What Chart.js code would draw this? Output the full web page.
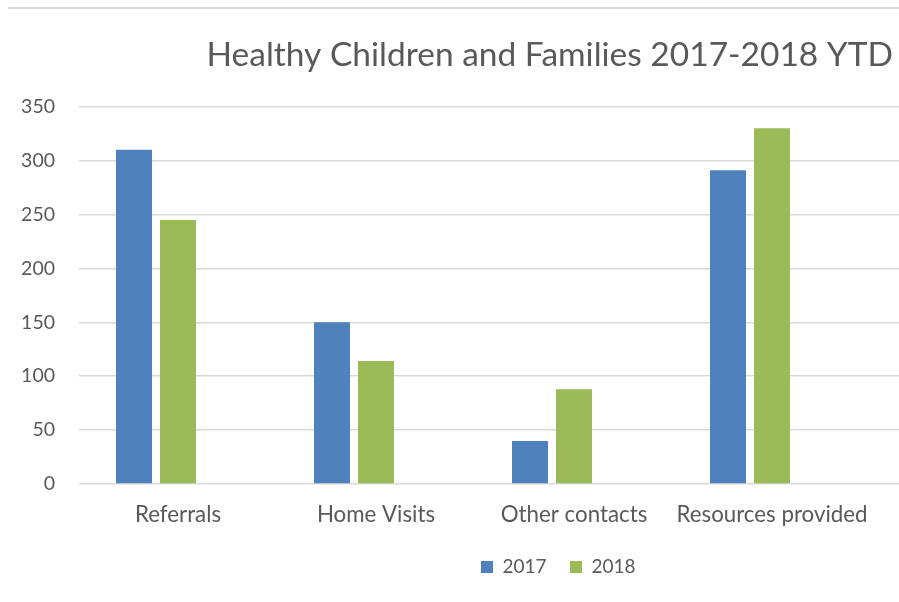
<!DOCTYPE html>
<html>
<head>
<meta charset="utf-8">
<title>Healthy Children and Families 2017-2018 YTD</title>
<script src="https://cdn.jsdelivr.net/npm/chart.js@4.4.1/dist/chart.umd.min.js"></script>
<style>
  html, body { margin: 0; padding: 0; background: #fff; }
  #wrap { position: relative; width: 899px; height: 602px; }
  #wrap .frame { position: absolute; left: 8px; right: 0; top: 7px; border-top: 2px solid #d9d9d9; }
</style>
</head>
<body>
<div id="wrap">
  <canvas id="hcfChart"></canvas>
  <div class="frame"></div>
</div>
<script>
// data
const categories = ["Referrals", "Home Visits", "Other contacts", "Resources provided"];
const values2017 = [310, 150, 40, 291];
const values2018 = [245, 114, 88, 330];
const emptySeries = [null, null, null, null]; // third series slot is empty in the source
const yTicks = [0, 50, 100, 150, 200, 250, 300, 350];
const titleText = "Healthy Children and Families 2017-2018 YTD";

const FONT = "Lato, 'Open Sans', sans-serif";
const textColor = "#595959";
const gridColor = "#d9d9d9";

// measure text so sizes match the picture
function textWidth(text, size, weight) {
  const c = document.createElement("canvas").getContext("2d");
  c.font = weight + " " + size + "px " + FONT;
  return c.measureText(text).width;
}
function fitSize(text, width, weight) {
  return Math.round(1000 * width / textWidth(text, 100, weight)) / 10;
}
const titleSize = fitSize(titleText, 686, 400);
const yTickSize = fitSize("350", 34, 400);
const xTickSize = fitSize("Resources provided", 191, 400);
const legendSize = fitSize("2017", 44, 400);
const legendGap = 570 - 481 - 12 - legendSize / 2 - textWidth("2017", legendSize, 400);

const xTickPad = 30.8 - 0.6 * xTickSize;
// keep the plot bottom on the 0 line whatever the legend height comes to
const padBottom = 14.5 - 0.6 * xTickSize + (legendSize * 40 / 44 + 28) - (legendSize + legendGap);

// move title / legend where the picture has them
const placeBoxes = {
  id: "placeBoxes",
  afterLayout(chart) {
    if (chart.titleBlock) chart.titleBlock.right = 893;
    const lg = chart.legend;
    const pad = lg.options.labels.padding;
    const h = lg.height;
    lg.left = 481 - pad;
    lg.right = 899;
    lg.top = 567 - legendSize / 2 - pad;
    lg.bottom = lg.top + h;
  }
};

// gridlines run past the plot to the right edge
const gridTail = {
  id: "gridTail",
  beforeDatasetsDraw(chart) {
    const { ctx, chartArea, scales } = chart;
    const y = scales.y;
    const lw = 1.5;
    ctx.save();
    ctx.strokeStyle = gridColor;
    ctx.lineWidth = lw;
    y.ticks.forEach(t => {
      const dpr = chart.currentDevicePixelRatio || 1;
      const p = y.getPixelForValue(t.value);
      const py = Math.round((p - lw / 2) * dpr) / dpr + lw / 2;
      ctx.beginPath();
      ctx.moveTo(chartArea.right, py);
      ctx.lineTo(chart.width, py);
      ctx.stroke();
    });
    ctx.restore();
  }
};

const ctx = document.getElementById("hcfChart").getContext("2d");

const chart = new Chart(ctx, {
  type: "bar",
  data: {
    labels: categories,
    datasets: [
      { label: "2017", data: values2017, backgroundColor: "#4f81bd" },
      { label: "2018", data: values2018, backgroundColor: "#9bbb59" },
      { label: "", data: emptySeries, backgroundColor: "#c0504d" }
    ]
  },
  options: {
    responsive: true,
    maintainAspectRatio: false,
    animation: false,
    datasets: {
      bar: { categoryPercentage: 0.6667, barPercentage: 0.8182 }
    },
    layout: { padding: { left: 21, right: 28, top: 0, bottom: padBottom } },
    plugins: {
      title: {
        display: true,
        text: titleText,
        align: "end",
        color: textColor,
        font: { family: FONT, size: titleSize, weight: 400 },
        padding: { top: 55 - 0.6 * titleSize, bottom: 51.7 - 0.6 * titleSize }
      },
      legend: {
        position: "bottom",
        align: "start",
        labels: {
          boxWidth: 12,
          boxHeight: 12,
          padding: legendGap,
          color: textColor,
          font: { family: FONT, size: legendSize },
          filter: item => item.text !== ""
        }
      },
      tooltip: { enabled: false }
    },
    scales: {
      x: {
        grid: { display: false, drawTicks: false },
        border: { display: false },
        ticks: { color: textColor, font: { family: FONT, size: xTickSize }, padding: xTickPad }
      },
      y: {
        min: yTicks[0],
        max: yTicks[yTicks.length - 1],
        ticks: { stepSize: 50, color: textColor, font: { family: FONT, size: yTickSize }, padding: 24 },
        grid: { color: gridColor, lineWidth: 1.5, drawTicks: false },
        border: { display: false },
        afterFit: s => { s.width = 58; }
      }
    }
  },
  plugins: [placeBoxes, gridTail]
});
</script>
</body>
</html>
